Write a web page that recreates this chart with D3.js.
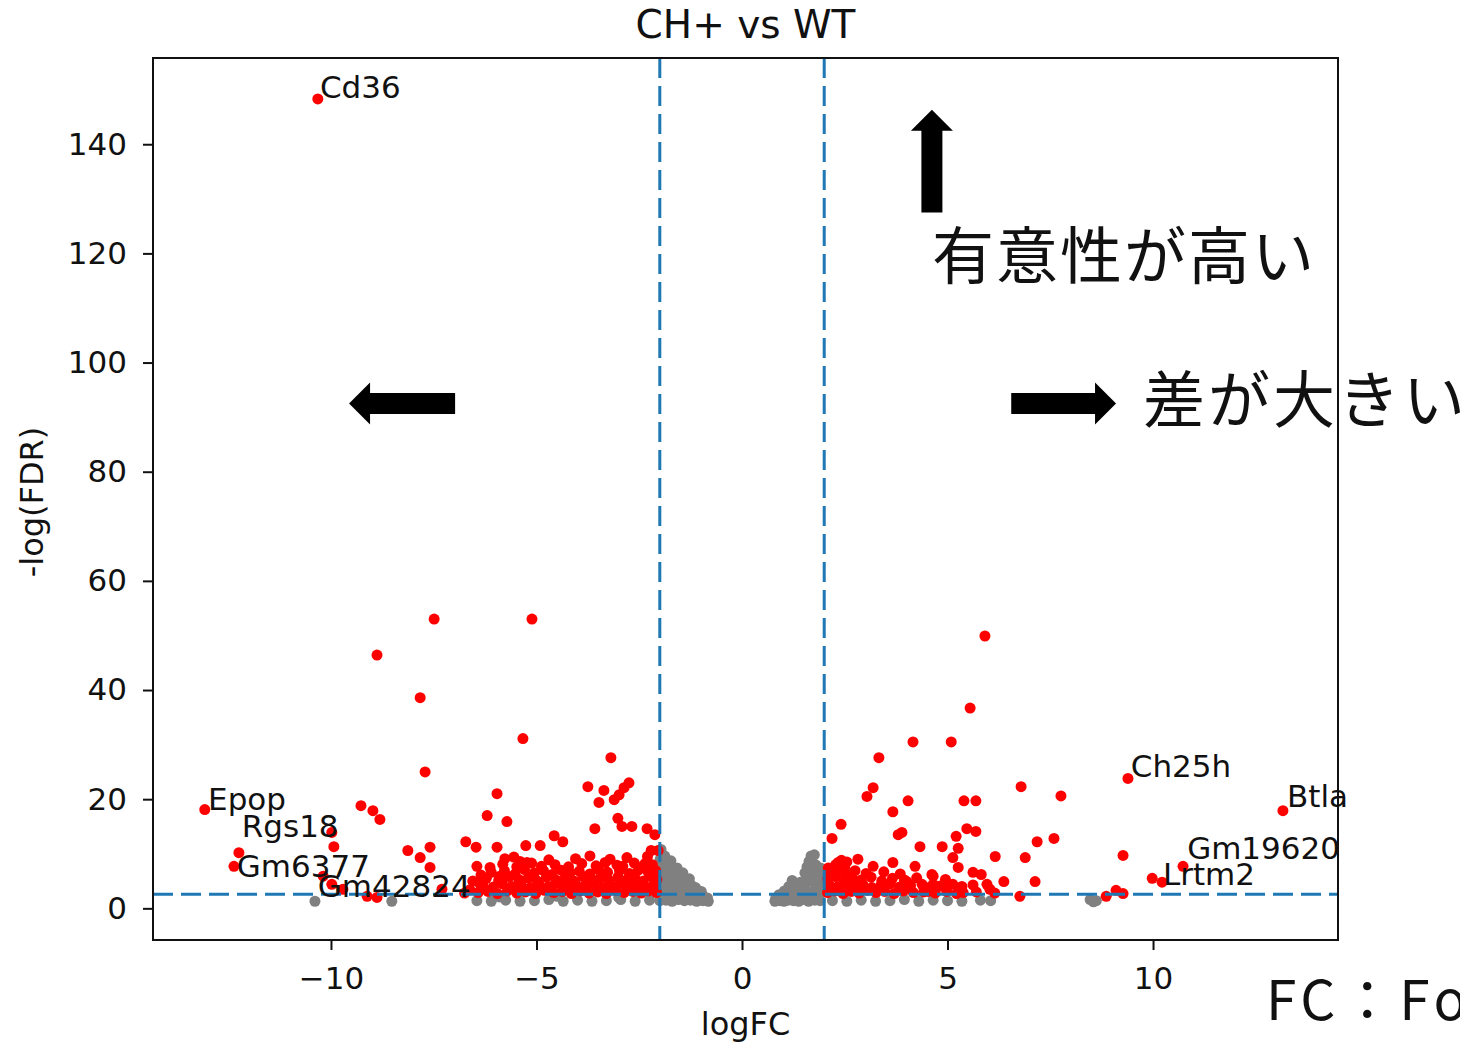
<!DOCTYPE html>
<html>
<head>
<meta charset="utf-8">
<script src="https://cdn.jsdelivr.net/npm/d3@7"></script>
<style>
  body { margin: 0; background: #fff; }
  svg text { font-family: "DejaVu Sans", sans-serif; fill: #111; }
  .jp { font-family: "Noto Sans CJK JP", sans-serif; }
</style>
</head>
<body>
<div id="chart"></div>
<script>
// significant, logFC < -2  ([logFC, -log(FDR)])
var downRed = [
  [-10.32,148.3], [-7.49,53.0], [-5.11,53.0], [-8.88,46.4], [-7.83,38.6], [-5.33,31.1],
  [-3.19,27.6], [-7.71,25.0], [-3.75,22.3], [-3.36,21.6], [-3.48,19.4], [-3.11,19.9],
  [-2.99,20.8], [-2.87,22.1], [-2.75,23.0], [-5.96,21.0], [-6.20,17.0], [-5.72,15.9],
  [-3.58,14.6], [-3.02,16.5], [-2.92,15.0], [-2.68,15.0], [-2.31,14.6], [-2.12,13.5],
  [-4.57,13.3], [-4.36,12.2], [-8.13,10.6], [-7.59,11.2], [-7.83,9.3], [-7.59,7.5],
  [-6.72,12.2], [-6.47,11.2], [-5.96,11.2], [-5.26,11.5], [-4.91,11.5], [-2.21,10.6],
  [-2.04,10.6], [-2.36,8.2], [-3.21,9.0], [-3.04,7.9], [-5.77,9.1], [-6.45,7.7],
  [-6.13,7.5], [-5.40,8.6], [-5.23,8.4], [-5.89,5.9],
  [-13.07,18.1], [-9.27,18.8], [-8.98,17.9], [-8.81,16.3], [-9.98,13.9], [-9.93,11.3],
  [-12.24,10.2], [-12.36,7.7], [-10.19,5.9], [-9.98,4.4], [-9.71,3.5], [-9.12,2.2],
  [-8.88,2.0], [-7.30,3.5], [-6.37,4.4], [-6.62,3.4], [-6.75,2.8], [-6.55,5.0],
  [-6.42,2.9], [-6.18,3.1], [-5.95,2.7], [-5.71,3.2], [-5.48,2.8], [-5.27,3.0], [-5.02,2.7],
  [-4.81,3.3], [-4.58,2.9], [-4.37,3.1], [-4.15,2.7], [-3.93,3.2], [-3.72,2.8], [-3.51,3.0],
  [-3.30,2.7], [-3.08,3.3], [-2.87,2.9], [-2.66,3.1], [-2.45,2.8], [-2.27,3.2], [-2.08,2.9],
  [-6.30,4.2], [-6.05,3.9], [-5.83,4.5], [-5.60,4.0], [-5.38,4.4], [-5.15,3.8], [-4.93,4.3],
  [-4.70,4.0], [-4.48,4.6], [-4.26,3.9], [-4.04,4.3], [-3.82,4.1], [-3.61,4.5], [-3.40,3.8],
  [-3.19,4.2], [-2.97,4.6], [-2.76,4.0], [-2.55,4.4], [-2.35,3.9], [-2.15,4.3],
  [-6.22,5.5], [-5.92,5.1], [-5.66,5.8], [-5.43,5.3], [-5.20,5.6], [-4.98,5.0], [-4.76,5.7],
  [-4.53,5.2], [-4.31,5.5], [-4.09,5.0], [-3.87,5.8], [-3.66,5.3], [-3.45,5.6], [-3.24,5.1],
  [-3.02,5.7], [-2.81,5.2], [-2.60,5.5], [-2.40,5.0], [-2.20,5.8], [-2.07,5.3],
  [-6.10,6.6], [-5.78,6.9], [-5.52,6.3], [-5.29,7.1], [-5.05,6.5], [-4.83,6.9], [-4.62,6.2],
  [-4.40,7.0], [-4.18,6.5], [-3.96,6.8], [-3.70,6.3], [-3.49,7.1], [-3.27,6.6], [-2.98,6.9],
  [-2.74,6.4], [-2.52,7.0], [-2.28,6.6], [-2.10,6.9],
  [-5.82,8.1], [-5.48,7.6], [-5.12,8.3], [-4.88,7.7], [-4.55,8.0], [-4.22,7.6], [-3.90,8.2],
  [-3.55,7.8], [-3.33,8.4], [-2.90,7.7], [-2.62,8.3], [-2.42,7.6], [-2.18,8.0],
  [-6.35,6.1], [-5.55,9.4], [-4.70,8.9], [-4.05,9.1], [-3.70,9.6], [-2.80,9.3], [-2.30,9.5]
];

// significant, logFC > 2
var upRed = [
  [5.91,49.9], [5.55,36.7], [4.16,30.5], [5.09,30.5], [3.33,27.6], [3.19,22.1], [3.04,20.5],
  [4.04,19.7], [5.40,19.7], [5.69,19.7], [6.79,22.3], [7.76,20.6], [3.67,17.7], [2.41,15.4],
  [2.19,12.8], [3.80,13.5], [5.47,14.6], [5.69,14.1], [5.21,13.2], [4.33,11.3], [4.87,11.3],
  [5.26,11.0], [7.18,12.2], [7.59,12.8], [6.16,9.5], [6.89,9.3], [5.13,9.3], [5.26,7.5],
  [3.67,8.4], [4.21,7.7], [3.19,7.7], [2.82,9.0], [7.13,4.9], [6.37,4.9], [5.62,6.6],
  [5.82,6.2], [5.96,4.4], [5.38,2.9], [6.76,2.2], [4.65,5.9], [3.89,13.9], [2.34,8.4],
  [4.62,6.2], [4.01,4.9], [4.38,4.4], [4.65,4.4], [4.94,4.4], [5.13,4.4], [6.03,3.5], [4.53,3.1],
  [9.27,9.7], [8.86,2.2], [9.10,3.3], [9.27,2.7], [9.98,5.5], [10.22,4.8], [10.73,7.7],
  [9.39,23.8], [13.16,17.9],
  [2.08,2.9], [2.27,3.2], [2.46,2.7], [2.66,3.1], [2.85,2.8], [3.05,3.3], [3.26,2.9], [3.47,3.1],
  [3.70,2.7], [3.93,3.2], [4.17,2.9], [4.42,3.0], [4.70,2.8], [4.98,3.1], [5.22,2.7], [5.70,3.0],
  [6.15,2.8],
  [2.12,4.3], [2.32,3.9], [2.52,4.5], [2.73,4.0], [2.94,4.4], [3.16,3.8], [3.38,4.2], [3.60,4.5],
  [3.83,3.9], [4.10,4.2], [4.45,3.9], [4.82,4.1], [5.35,4.0], [5.62,4.3],
  [2.09,5.4], [2.28,5.8], [2.47,5.1], [2.68,5.6], [2.90,5.2], [3.14,5.7], [3.40,5.0], [3.66,5.5],
  [3.95,5.2], [4.25,5.6], [4.95,5.3],
  [2.14,6.7], [2.33,7.1], [2.52,6.4], [2.75,6.9], [3.02,6.4], [3.45,6.7], [3.85,6.3],
  [2.10,7.4], [2.28,8.0], [2.42,8.8], [2.55,8.5], [2.50,7.5]
];

// not significant
var greyNs = [
  [-2.00,1.4], [-2.00,3.0], [-2.00,4.5], [-1.98,6.0], [-2.02,7.5], [-1.99,9.0], [-1.97,10.8],
  [-1.85,1.5], [-1.86,3.2], [-1.84,4.8], [-1.87,6.4], [-1.85,8.0], [-1.88,9.6],
  [-1.70,1.3], [-1.72,2.9], [-1.69,4.4], [-1.71,6.0], [-1.70,7.6], [-1.73,8.7],
  [-1.55,1.6], [-1.57,3.1], [-1.54,4.7], [-1.56,6.3], [-1.58,7.4],
  [-1.40,1.4], [-1.41,2.8], [-1.39,4.3], [-1.42,5.6], [-1.44,6.5],
  [-1.25,1.5], [-1.26,3.0], [-1.24,4.3], [-1.28,5.4],
  [-1.10,1.3], [-1.11,2.7], [-1.13,3.8],
  [-0.95,1.4], [-0.97,2.5], [-0.99,3.1], [-0.82,1.3], [-0.84,1.9],
  [-6.45,1.4], [-6.10,1.3], [-5.75,1.5], [-5.40,1.3], [-5.05,1.4], [-4.70,1.6], [-4.35,1.3],
  [-4.00,1.5], [-3.65,1.3], [-3.30,1.4], [-2.95,1.6], [-2.60,1.3], [-2.25,1.5],
  [-5.90,2.1], [-4.50,2.2], [-3.00,2.0], [-10.39,1.3], [-8.52,1.3],
  [0.80,1.3], [0.82,1.9], [0.92,1.4], [0.90,2.5], [1.02,1.3], [1.00,2.2], [1.03,3.2],
  [1.12,1.5], [1.10,2.8], [1.14,4.0], [1.25,1.4], [1.24,2.6], [1.27,3.9], [1.22,5.1],
  [1.38,1.3], [1.40,2.4], [1.37,3.6], [1.42,4.8], [1.52,1.6], [1.50,3.0], [1.55,4.4],
  [1.53,6.5], [1.58,7.6], [1.62,1.3], [1.64,2.7], [1.60,5.8], [1.66,7.2], [1.63,8.6],
  [1.68,9.6], [1.77,1.5], [1.75,3.2], [1.78,4.6], [1.74,6.3], [1.79,8.0], [1.76,9.8],
  [1.90,1.4], [1.92,2.9], [1.89,4.4], [1.93,6.1], [1.91,7.4],
  [2.20,1.4], [2.55,1.3], [2.90,1.5], [3.25,1.3], [3.60,1.4], [3.95,1.6], [4.30,1.3],
  [4.65,1.5], [5.00,1.4], [5.35,1.3], [5.80,1.5], [6.05,1.4],
  [8.47,1.6], [8.62,1.4], [8.55,1.2]
];

var labelNames = ["Cd36", "Epop", "Rgs18", "Gm6377", "Gm42824", "Ch25h", "Btla", "Gm19620", "Lrtm2"];
var labelFC    = [-10.27, -12.99, -12.17, -12.29, -10.32, 9.46, 13.26, 10.83, 10.24];
var labelFDR   = [148.4, 18.1, 13.0, 5.7, 2.0, 24.1, 18.5, 9.0, 4.2];

var xTicks = [-10, -5, 0, 5, 10];
var yTicks = [0, 20, 40, 60, 80, 100, 120, 140];
var fcCut = 2;
var fdrCut = 2.6;

var width = 1460, height = 1045;
var margin = {left: 153, top: 58, right: 122, bottom: 105};
var innerW = width - margin.left - margin.right;
var innerH = height - margin.top - margin.bottom;

var svg = d3.select("#chart").append("svg")
  .attr("width", width)
  .attr("height", height);

var x = d3.scaleLinear().domain([-14.33, 14.5]).range([0, innerW]);
var y = d3.scaleLinear().domain([-5.8, 155.8]).range([innerH, 0]);

var g = svg.append("g")
  .attr("transform", "translate(" + margin.left + "," + margin.top + ")");

var fmt = function(d) { return d < 0 ? "\u2212" + Math.abs(d) : d; };

var xAxis = g.append("g")
  .attr("transform", "translate(0," + innerH + ")")
  .call(d3.axisBottom(x).tickValues(xTicks).tickSize(10).tickPadding(17).tickFormat(fmt));
var yAxis = g.append("g")
  .call(d3.axisLeft(y).tickValues(yTicks).tickSize(10).tickPadding(16));

[xAxis, yAxis].forEach(function(a) {
  a.select(".domain").remove();
  a.selectAll("line").attr("stroke", "#111").attr("stroke-width", 2);
  a.selectAll("text").style("font-size", "31px").attr("fill", "#111");
});

// points
g.append("g").selectAll("circle")
  .data(greyNs).enter().append("circle")
  .attr("cx", function(d) { return x(d[0]); })
  .attr("cy", function(d) { return y(d[1]); })
  .attr("r", 5.5)
  .attr("fill", "#808080");

g.append("g").selectAll("circle")
  .data(downRed.concat(upRed)).enter().append("circle")
  .attr("cx", function(d) { return x(d[0]); })
  .attr("cy", function(d) { return y(d[1]); })
  .attr("r", 5.5)
  .attr("fill", "#ff0000");

// threshold lines
var dash = "20,8";
[-fcCut, fcCut].forEach(function(v) {
  g.append("line")
    .attr("x1", x(v)).attr("x2", x(v))
    .attr("y1", 0).attr("y2", innerH)
    .attr("stroke", "#1f77b4").attr("stroke-width", 3)
    .attr("stroke-dasharray", dash);
});
g.append("line")
  .attr("x1", 0).attr("x2", innerW)
  .attr("y1", y(fdrCut)).attr("y2", y(fdrCut))
  .attr("stroke", "#1f77b4").attr("stroke-width", 3)
  .attr("stroke-dasharray", dash);

// gene labels
g.append("g").selectAll("text")
  .data(labelNames).enter().append("text")
  .attr("x", function(d, i) { return x(labelFC[i]); })
  .attr("y", function(d, i) { return y(labelFDR[i]); })
  .style("font-size", "31px")
  .text(function(d) { return d; });

// frame
g.append("rect")
  .attr("width", innerW).attr("height", innerH)
  .attr("fill", "none").attr("stroke", "#111").attr("stroke-width", 2);

// titles
svg.append("text")
  .attr("x", margin.left + innerW / 2).attr("y", 38)
  .attr("text-anchor", "middle")
  .style("font-size", "39px")
  .text("CH+ vs WT");

svg.append("text")
  .attr("x", margin.left + innerW / 2).attr("y", 1035)
  .attr("text-anchor", "middle")
  .style("font-size", "32px")
  .text("logFC");

svg.append("text")
  .attr("transform", "translate(43," + (margin.top + innerH / 2 + 3) + ") rotate(-90)")
  .attr("text-anchor", "middle")
  .style("font-size", "32px")
  .text("-log(FDR)");

// annotation arrows (data coords of tail and tip)
var arrows = [
  {from: [4.62, 127.5], to: [4.62, 146.3]},
  {from: [-6.98, 92.5], to: [-9.56, 92.5]},
  {from: [6.55, 92.5], to: [9.1, 92.5]}
];
arrows.forEach(function(a) {
  var x0 = x(a.from[0]), y0 = y(a.from[1]), x1 = x(a.to[0]), y1 = y(a.to[1]);
  var len = Math.hypot(x1 - x0, y1 - y0);
  var ux = (x1 - x0) / len, uy = (y1 - y0) / len, px = -uy, py = ux;
  var sw = 10.5, hw = 21, hl = 21;
  var bx = x1 - ux * hl, by = y1 - uy * hl;
  var pts = [
    [x0 + px * sw, y0 + py * sw], [bx + px * sw, by + py * sw], [bx + px * hw, by + py * hw],
    [x1, y1], [bx - px * hw, by - py * hw], [bx - px * sw, by - py * sw], [x0 - px * sw, y0 - py * sw]
  ];
  g.append("path")
    .attr("d", "M" + pts.map(function(p) { return p.join(","); }).join("L") + "Z")
    .attr("fill", "#000");
});

// Japanese notes
svg.append("text").attr("class", "jp")
  .attr("x", 932).attr("y", 279)
  .style("font-size", "62px").style("letter-spacing", "2px").attr("fill", "#000")
  .text("有意性が高い");

svg.append("text").attr("class", "jp")
  .attr("x", 1143).attr("y", 423)
  .style("font-size", "62px").style("letter-spacing", "3px").attr("fill", "#000")
  .text("差が大きい");

svg.append("text").attr("class", "jp")
  .attr("x", 1266).attr("y", 1020)
  .style("font-size", "55px").style("letter-spacing", "4.5px").attr("fill", "#000")
  .text("FC：Fold change");
</script>
</body>
</html>
